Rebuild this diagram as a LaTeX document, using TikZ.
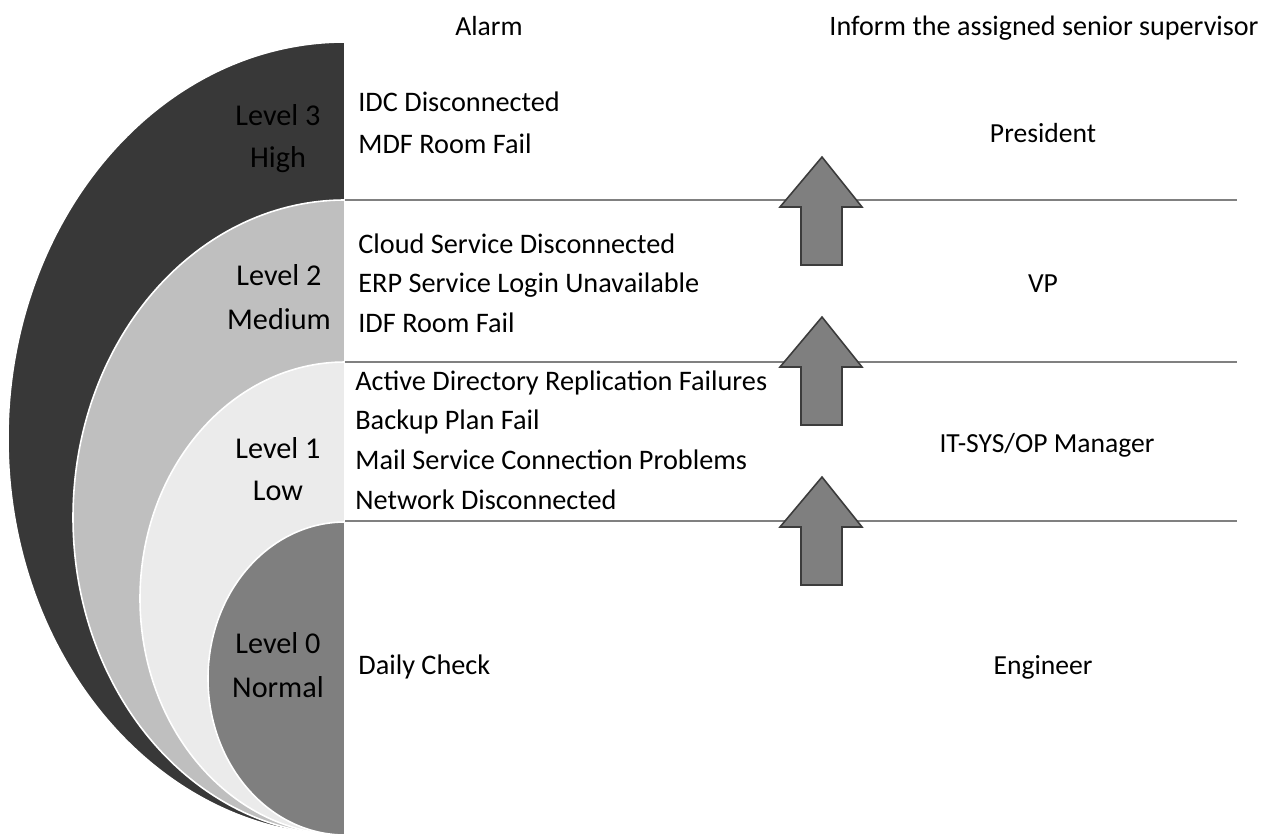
\documentclass[tikz,border=0pt]{standalone}
\usepackage{fontspec}
\setmainfont{Carlito}
\usetikzlibrary{positioning}

\definecolor{levelthree}{HTML}{383838}
\definecolor{leveltwo}{HTML}{BFBFBF}
\definecolor{levelone}{HTML}{EBEBEB}
\definecolor{levelzero}{HTML}{7F7F7F}
\definecolor{dividergray}{HTML}{808080}
\definecolor{arrowedge}{HTML}{3C3C3C}

\begin{document}
\begin{tikzpicture}[
                x=0.02cm, y=-0.02cm,
                font=\fontsize{15.7}{22.7}\selectfont,
                LevelArc/.style={draw=white, line width=0.9pt},
                LevelText/.style={anchor=base, inner sep=0pt, font=\fontsize{17.2}{22.7}\selectfont},
                AlarmText/.style={anchor=base west, inner sep=0pt, font=\fontsize{16.1}{22.7}\selectfont},
                BossText/.style={anchor=base, inner sep=0pt},
                Divider/.style={draw=dividergray, line width=1.2pt},
                UpArrow/.style={fill=levelzero, draw=arrowedge, line width=0.9pt},
            ]
            \useasboundingbox (0,0) rectangle (1266,838);

            % half ellipses, outer to inner
            \filldraw[levelthree, LevelArc] (345,42) arc[start angle=270, end angle=90, x radius=337, y radius=396.5] -- cycle;
            \filldraw[leveltwo, LevelArc] (345,200) arc[start angle=270, end angle=90, x radius=272, y radius=317.5] -- cycle;
            \filldraw[levelone, LevelArc] (345,362) arc[start angle=270, end angle=90, x radius=205, y radius=236.5] -- cycle;
            \filldraw[levelzero, LevelArc] (345,522) arc[start angle=270, end angle=90, x radius=137, y radius=156.5] -- cycle;

            % level names
            \node [LevelText] (l3) at (278,125) {Level 3};
            \node [LevelText] (l3n) at ([yshift=-0.86cm]l3.base) {High};
            \node [LevelText] (l2) at (279,285) {Level 2};
            \node [LevelText] (l2n) at ([yshift=-0.9cm]l2.base) {Medium};
            \node [LevelText] (l1) at (278,458) {Level 1};
            \node [LevelText] (l1n) at ([yshift=-0.84cm]l1.base) {Low};
            \node [LevelText] (l0) at (278,653) {Level 0};
            \node [LevelText] (l0n) at ([yshift=-0.88cm]l0.base) {Normal};

            % column heads
            \node [BossText] (alarm) at (489,36) {Alarm};
            \node [BossText, font=\fontsize{16}{22.7}\selectfont] (inform) at (1044,36) {Inform the assigned senior supervisor};

            % alarms
            \node [AlarmText] (idc) at (358,112) {IDC Disconnected};
            \node [AlarmText] (mdf) at ([yshift=-0.84cm]idc.base west) {MDF Room Fail};

            \node [AlarmText] (cloud) at (358,253) {Cloud Service Disconnected};
            \node [AlarmText] (erp) at ([yshift=-0.8cm]cloud.base west) {ERP Service Login Unavailable};
            \node [AlarmText] (idf) at ([yshift=-0.8cm]erp.base west) {IDF Room Fail};

            \node [AlarmText] (ad) at (355,390) {Active Directory Replication Failures};
            \node [AlarmText] (backup) at ([yshift=-0.8cm]ad.base west) {Backup Plan Fail};
            \node [AlarmText] (mail) at ([yshift=-0.8cm]backup.base west) {Mail Service Connection Problems};
            \node [AlarmText] (net) at ([yshift=-0.8cm]mail.base west) {Network Disconnected};

            \node [AlarmText] (daily) at (358,674) {Daily Check};

            % supervisors
            \node [BossText] (president) at (1043,142) {President};
            \node [BossText] (vp) at (1043,292) {VP};
            \node [BossText] (manager) at (1047,452) {IT-SYS/OP Manager};
            \node [BossText] (engineer) at (1043,674) {Engineer};

            % dividers
            \foreach \y in {200,362,521}
                \draw[Divider] (345,\y) -- (1237,\y);

            % escalation arrows
            \foreach \tip in {157,317,477}
                \draw[UpArrow] (822,\tip) -- (862,\tip+50) -- (842,\tip+50) -- (842,\tip+108)
                    -- (801,\tip+108) -- (801,\tip+50) -- (780,\tip+50) -- cycle;
        \end{tikzpicture}
\end{document}
